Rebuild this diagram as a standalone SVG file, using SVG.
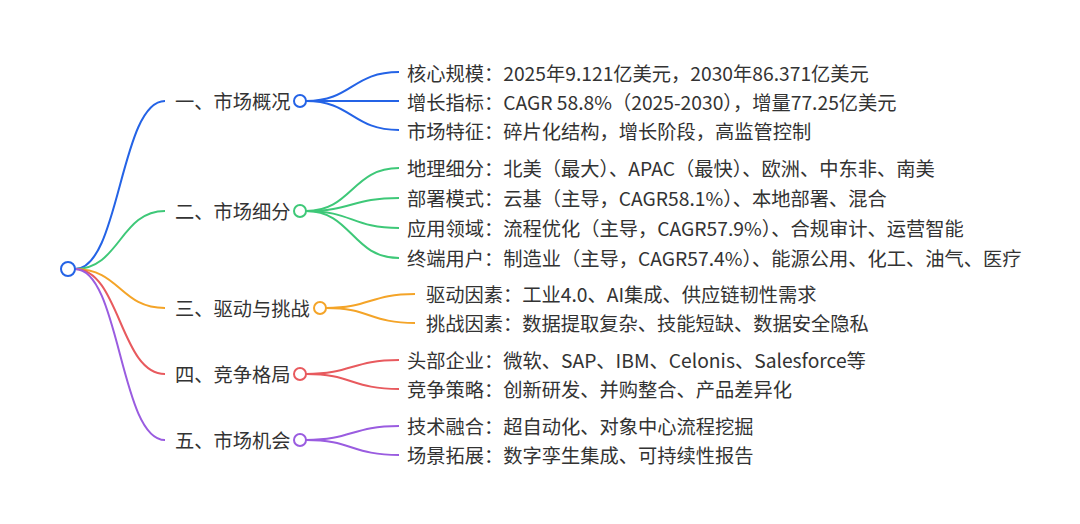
<svg xmlns="http://www.w3.org/2000/svg" width="1080" height="524" viewBox="0 0 1080 524">
<style>
text{font-family:"Noto Sans CJK SC","Noto Sans",sans-serif;font-size:19.25px;fill:#333;dominant-baseline:central}
.c{fill:none;stroke-width:2}
.b{stroke:#2463e6}.g{stroke:#3ec878}.o{stroke:#f4a428}.r{stroke:#e85a5e}.p{stroke:#9a5ce0}
circle{fill:#fff;stroke-width:2}
</style>
<rect width="1080" height="524" fill="#fff"/>
<g id="connectors">
<path class="c b" d="M75 269 C120 269 120 101 165 101"/>
<path class="c g" d="M75 269 C120 269 120 211 165 211"/>
<path class="c o" d="M75 269 C120 269 120 308 165 308"/>
<path class="c r" d="M75 269 C120 269 120 374 165 374"/>
<path class="c p" d="M75 269 C120 269 120 440 165 440"/>
<path class="c b" d="M306 101 C352 101 352 72 399 72"/>
<path class="c b" d="M306 101 L399 101"/>
<path class="c b" d="M306 101 C352 101 352 130 399 130"/>
<path class="c g" d="M306 211 C352 211 352 168 399 168"/>
<path class="c g" d="M306 211 C352 211 352 198 399 198"/>
<path class="c g" d="M306 211 C352 211 352 228 399 228"/>
<path class="c g" d="M306 211 C352 211 352 258 399 258"/>
<path class="c o" d="M326 308 C370 308 370 294 415 294"/>
<path class="c o" d="M326 308 C370 308 370 323 415 323"/>
<path class="c r" d="M306 374 C352 374 352 360 399 360"/>
<path class="c r" d="M306 374 C352 374 352 389 399 389"/>
<path class="c p" d="M306 440 C352 440 352 426 399 426"/>
<path class="c p" d="M306 440 C352 440 352 455 399 455"/>
</g>
<g id="root"><circle cx="68" cy="269" r="7" stroke="#2463e6"/></g>
<g id="n1"><text x="175" y="101">一、市场概况</text><circle cx="300" cy="101" r="6" stroke="#2463e6"/></g>
<g id="n2"><text x="175" y="211">二、市场细分</text><circle cx="300" cy="211" r="6" stroke="#3ec878"/></g>
<g id="n3"><text x="175" y="308">三、驱动与挑战</text><circle cx="320" cy="308" r="6" stroke="#f4a428"/></g>
<g id="n4"><text x="175" y="374">四、竞争格局</text><circle cx="300" cy="374" r="6" stroke="#e85a5e"/></g>
<g id="n5"><text x="175" y="440">五、市场机会</text><circle cx="300" cy="440" r="6" stroke="#9a5ce0"/></g>
<g id="n1a"><text x="407" y="72.5">核心规模：2025年9.121亿美元，2030年86.371亿美元</text></g>
<g id="n1b"><text x="407" y="101.5">增长指标：CAGR 58.8%（2025-2030），增量77.25亿美元</text></g>
<g id="n1c"><text x="407" y="130.5">市场特征：碎片化结构，增长阶段，高监管控制</text></g>
<g id="n2a"><text x="407" y="168">地理细分：北美（最大）、APAC（最快）、欧洲、中东非、南美</text></g>
<g id="n2b"><text x="407" y="198">部署模式：云基（主导，CAGR58.1%）、本地部署、混合</text></g>
<g id="n2c"><text x="407" y="228">应用领域：流程优化（主导，CAGR57.9%）、合规审计、运营智能</text></g>
<g id="n2d"><text x="407" y="258">终端用户：制造业（主导，CAGR57.4%）、能源公用、化工、油气、医疗</text></g>
<g id="n3a"><text x="426" y="294">驱动因素：工业4.0、AI集成、供应链韧性需求</text></g>
<g id="n3b"><text x="426" y="323">挑战因素：数据提取复杂、技能短缺、数据安全隐私</text></g>
<g id="n4a"><text x="407" y="360">头部企业：微软、SAP、IBM、Celonis、Salesforce等</text></g>
<g id="n4b"><text x="407" y="389">竞争策略：创新研发、并购整合、产品差异化</text></g>
<g id="n5a"><text x="407" y="426">技术融合：超自动化、对象中心流程挖掘</text></g>
<g id="n5b"><text x="407" y="455">场景拓展：数字孪生集成、可持续性报告</text></g>
</svg>
